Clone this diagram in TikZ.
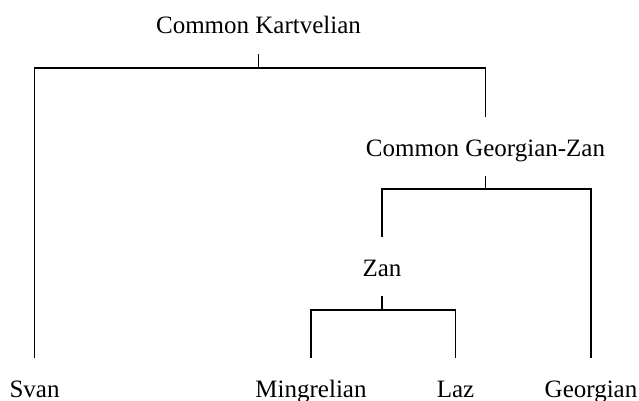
\documentclass[tikz,border=0pt]{standalone}
\usepackage{fontspec}
\setmainfont{Liberation Serif}
\begin{document}
\begin{tikzpicture}[x=1pt,y=-1pt,
  lbl/.style={font=\fontsize{25}{30}\selectfont, anchor=base, inner xsep=0pt,
    inner ysep=15pt, text height=24pt, text depth=5pt},
  branch/.style={line width=1.8pt, line join=miter}]
\useasboundingbox (0,0) rectangle (639,401);
\node[lbl] (ck)  at (258.5,34)  {Common Kartvelian};
\node[lbl] (cgz) at (485.5,156) {Common Georgian-Zan};
\node[lbl] (zan) at (382,276)   {Zan};
\node[lbl] (sv)  at (34.5,397)  {Svan};
\node[lbl] (mg)  at (311,397)   {Mingrelian};
\node[lbl] (lz)  at (455.5,397) {Laz};
\node[lbl] (ge)  at (591,397)   {Georgian};
\draw[branch] (ck.south) -- ++(0,14) coordinate (j1);
\draw[branch] (sv.north) |- (j1) -| (cgz.north);
\draw[branch] (cgz.south) -- ++(0,12.5) coordinate (j2);
\draw[branch] (zan.north) |- (j2) -| (ge.north);
\draw[branch] (zan.south) -- ++(0,14) coordinate (j3);
\draw[branch] (mg.north) |- (j3) -| (lz.north);
\end{tikzpicture}
\end{document}
